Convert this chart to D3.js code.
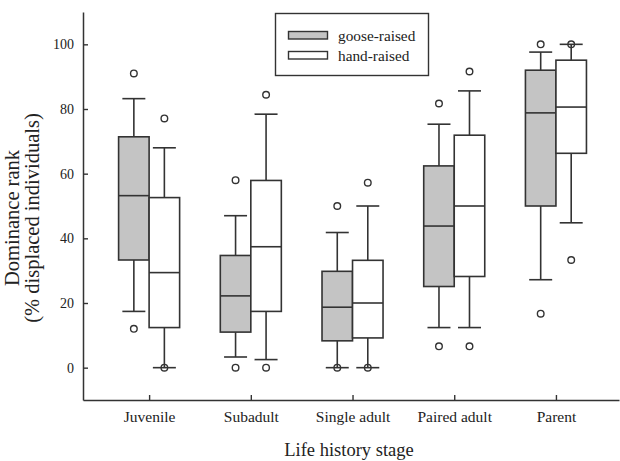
<!DOCTYPE html>
<html>
<head>
<meta charset="utf-8">
<script src="https://cdn.jsdelivr.net/npm/d3@7"></script>
<style>
  html, body { margin: 0; padding: 0; background: #fff; }
  svg { display: block; font-family: "Liberation Serif", "Times New Roman", serif; }
</style>
</head>
<body>
<div id="chart"></div>
<script>
// Dominance rank by life history stage, goose-raised vs hand-raised.
const stages = ['Juvenile', 'Subadult', 'Single adult', 'Paired adult', 'Parent'];
const groups = ['goose-raised', 'hand-raised'];
const yTicks = [0, 20, 40, 60, 80, 100];

// goose-raised
const gooseLow  = [17.4, 3.3, 0, 12.4, 27.2];
const gooseQ1   = [33.3, 11.0, 8.3, 25.1, 50.0];
const gooseMed  = [53.2, 22.2, 18.7, 43.8, 78.8];
const gooseQ3   = [71.4, 34.7, 29.8, 62.4, 92.0];
const gooseHigh = [83.2, 47.0, 41.8, 75.3, 97.6];
const gooseOut  = [[91, 12], [58, 0], [50, 0], [81.7, 6.6], [100, 16.7]];

// hand-raised
const handLow  = [0, 2.5, 0, 12.4, 44.8];
const handQ1   = [12.4, 17.4, 9.2, 28.2, 66.3];
const handMed  = [29.4, 37.4, 20.0, 50.0, 80.6];
const handQ3   = [52.6, 57.9, 33.2, 71.9, 95.1];
const handHigh = [68.0, 78.4, 50.0, 85.6, 100];
const handOut  = [[77.1, 0], [84.4, 0], [57.2, 0], [91.6, 6.6], [100, 33.3]];

const W = 620, H = 461;
const ink = '#333';
const fills = ['#c4c4c4', '#ffffff'];
const BOX = 0.3;   // box width in category units
const CAP = 0.113; // half cap width
const FONT = '"Liberation Serif", "Times New Roman", serif';

const x = d3.scaleLinear().domain([-0.65, 4.62]).range([83, 619]);
const y = d3.scaleLinear().domain([-10, 110]).range([400, 12]);

const svg = d3.select('#chart').append('svg').attr('width', W).attr('height', H);

// Axes — inward ticks, left and bottom only.
svg.append('g').attr('transform', `translate(${x.range()[0]},0)`)
  .call(d3.axisLeft(y).tickValues(yTicks).tickSize(-5).tickPadding(9).tickSizeOuter(0))
  .call((sel) => {
    sel.attr('font-family', FONT);
    sel.select('.domain').attr('stroke', ink).attr('stroke-width', 1.5);
    sel.selectAll('line').attr('stroke', ink).attr('stroke-width', 1.4);
    sel.selectAll('text').attr('fill', '#222').attr('font-size', 14);
  });
svg.append('g').attr('transform', `translate(0,${y.range()[0]})`)
  .call(d3.axisBottom(x).tickValues(d3.range(stages.length)).tickFormat((i) => stages[i])
    .tickSize(-5).tickPadding(11).tickSizeOuter(0))
  .call((sel) => {
    sel.attr('font-family', FONT);
    sel.select('.domain').attr('stroke', ink).attr('stroke-width', 1.5);
    sel.selectAll('line').attr('stroke', ink).attr('stroke-width', 1.4);
    sel.selectAll('text').attr('fill', '#222').attr('font-size', 15.5);
  });

// Axis titles
svg.append('text').attr('x', 349).attr('y', 456).attr('text-anchor', 'middle')
  .attr('font-size', 18.5).attr('fill', '#222').text('Life history stage');
const yt = svg.append('text').attr('transform', 'translate(0,218) rotate(-90)')
  .attr('text-anchor', 'middle').attr('fill', '#222').attr('font-size', 20.5);
yt.append('tspan').attr('x', 0).attr('y', 18.5).text('Dominance rank');
yt.append('tspan').attr('x', 0).attr('y', 38.5).text('(% displaced individuals)');

// Boxes
const data = [
  { low: gooseLow, q1: gooseQ1, med: gooseMed, q3: gooseQ3, high: gooseHigh, out: gooseOut },
  { low: handLow, q1: handQ1, med: handMed, q3: handQ3, high: handHigh, out: handOut },
];
const plot = svg.append('g').attr('stroke', ink).attr('stroke-width', 1.6);
data.forEach((s, g) => {
  stages.forEach((_, i) => {
    const x0 = i - BOX + g * BOX, x1 = x0 + BOX, cx = x0 + BOX / 2;
    // whiskers
    [[s.low[i], s.q1[i]], [s.q3[i], s.high[i]]].forEach(([a, b]) => {
      plot.append('line').attr('x1', x(cx)).attr('x2', x(cx)).attr('y1', y(a)).attr('y2', y(b));
    });
    [s.low[i], s.high[i]].forEach((v) => {
      plot.append('line').attr('x1', x(cx - CAP)).attr('x2', x(cx + CAP)).attr('y1', y(v)).attr('y2', y(v));
    });
    plot.append('rect').attr('x', x(x0)).attr('width', x(x1) - x(x0))
      .attr('y', y(s.q3[i])).attr('height', y(s.q1[i]) - y(s.q3[i])).attr('fill', fills[g]);
    plot.append('line').attr('x1', x(x0)).attr('x2', x(x1))
      .attr('y1', y(s.med[i])).attr('y2', y(s.med[i]));
    s.out[i].forEach((v) => {
      plot.append('circle').attr('cx', x(cx)).attr('cy', y(v)).attr('r', 3.3)
        .attr('fill', 'none').attr('stroke-width', 1.4);
    });
  });
});

// Legend
const lg = svg.append('g');
lg.append('rect').attr('x', 275.5).attr('y', 13.5).attr('width', 153).attr('height', 62)
  .attr('fill', '#fff').attr('stroke', ink).attr('stroke-width', 1.4);
groups.forEach((name, g) => {
  const yy = 31.5 + g * 20;
  lg.append('rect').attr('x', 288.5).attr('y', yy).attr('width', 39).attr('height', 7.5)
    .attr('fill', fills[g]).attr('stroke', ink).attr('stroke-width', 1.4);
  lg.append('text').attr('x', 338).attr('y', yy + 9.5).attr('font-size', 15.3)
    .attr('fill', '#222').text(name);
});
</script>
</body>
</html>
